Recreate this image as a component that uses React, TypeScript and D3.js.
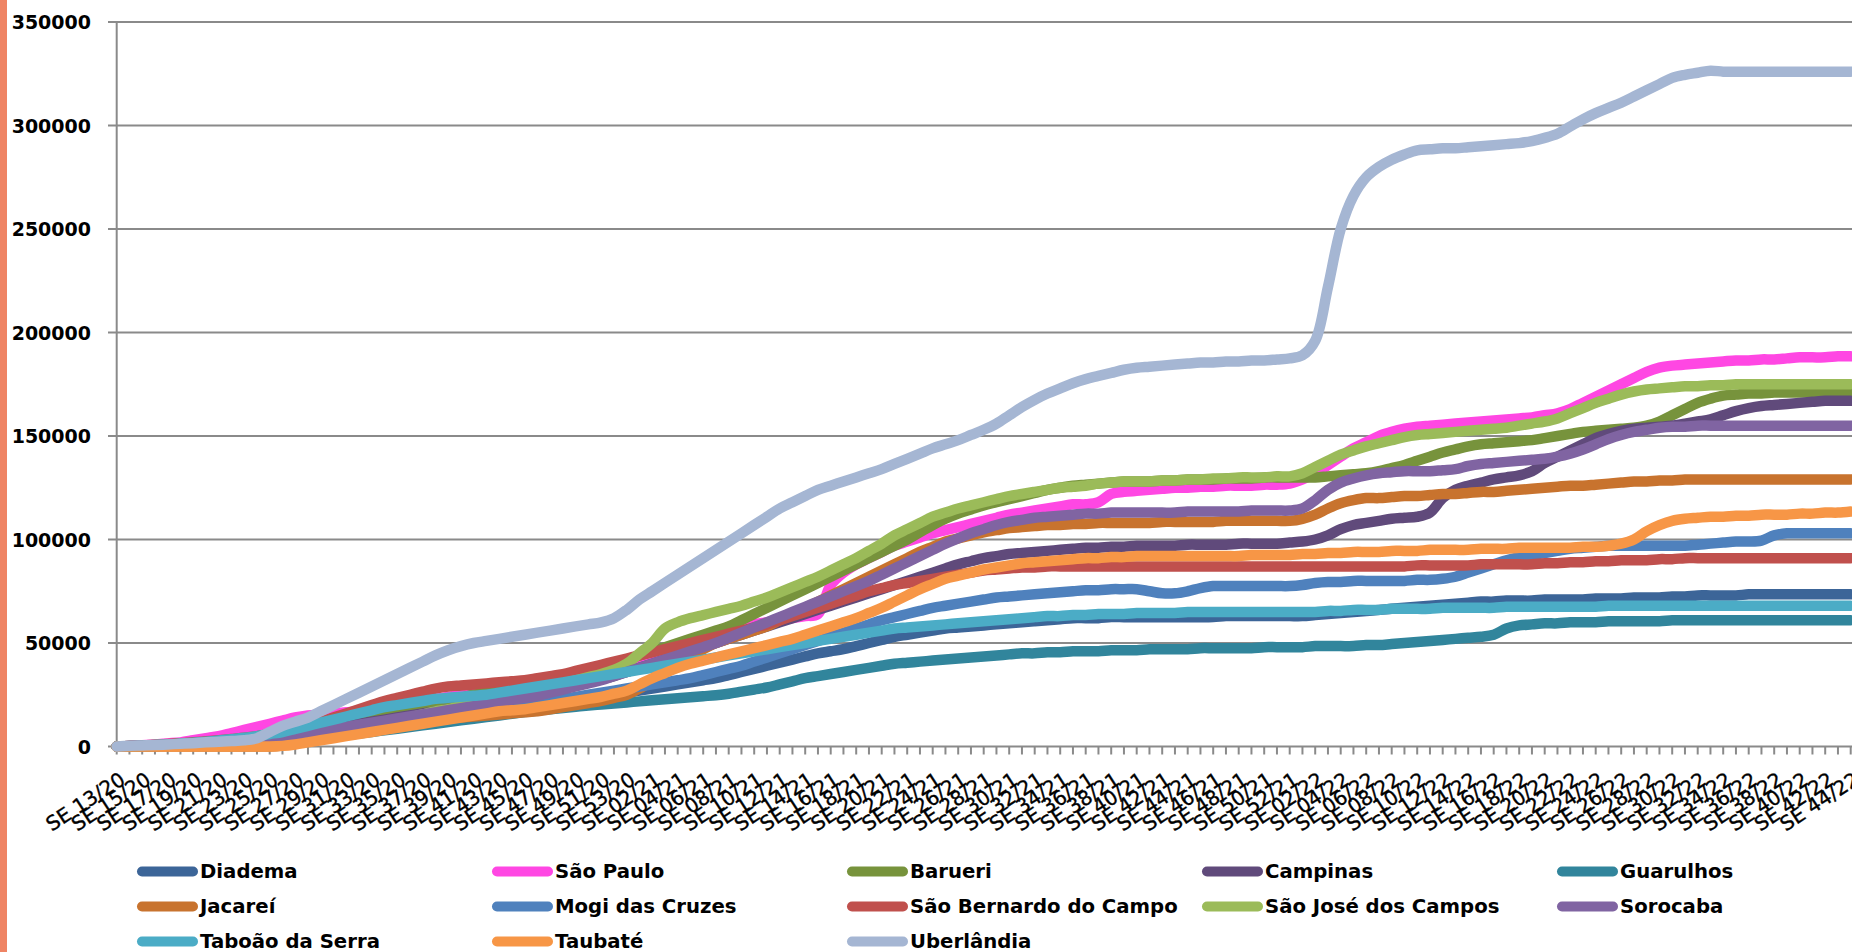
import React from 'react';
import * as d3 from 'd3';

// ---------- categories (epidemiological weeks) ----------
const YEAR_WEEKS: [string, number, number][] = [
  ['20', 13, 53],
  ['21', 1, 52],
  ['22', 1, 44],
];
const categories: string[] = [];
YEAR_WEEKS.forEach(([yy, a, b]) => {
  for (let w = a; w <= b; w++) categories.push(`SE ${String(w).padStart(2, '0')}/${yy}`);
});

const yTicks = [0, 50000, 100000, 150000, 200000, 250000, 300000, 350000];
const UNIT = 1000; // values below are in thousands

// ---------- series (values in thousands) ----------
const diadema = [0,0.1,0.2,0.4,0.6,0.8,1,1.3,1.6,2, 2.4,2.9,3.4,4,4.7,5.4,6,7,8,9, 10,11,12,13,14,14.5,15,15.5,16,16.5, 17,17.5,18,19,20,21,22,23,24,25, 26,27,28,29,30,31,32,33,34.5,36, 37.5,39,40.5,42,43.5,45,46,47,48.5,50, 51.5,53,54,55,56,57,57.5,58,58.5,59, 59.5,60,60.5,61,61.5,62,62,62,62.5,62.5, 62.5,62.5,62.5,62.5,62.5,62.5,62.5,63,63,63, 63,63,63,63,63.5,64,64.5,65,65.5,66, 66.5,67,67.5,68,68.5,69,69.5,70,70,70.5, 70.5,70.5,71,71,71,71,71.5,71.5,71.5,72, 72,72,72.5,72.5,73,73,73,73,73.5,73.5, 73.5,73.5,73.5,73.5,73.5,73.5,73.5];
const saoPaulo = [0,0.3,0.6,1,1.5,2,3,4,5,6.5, 8,9.5,11,12.5,14,15,15.5,16,16.5,17, 18,19,20,21,22,23,24,25,26,27, 28,29,30,31,32,33,34,35,36,37, 39,41,43,45,47,49,51,53,55,57, 59,60,61,62,63,64,78,84,88,91, 94,97,99,101,103,104.5,106,107.5,109,110.5, 112,113,114,115,116,117,117,118,122,123, 123.5,124,124.5,125,125,125.5,125.5,126,126,126, 126.5,126.5,127,129,132,136,140,144,147,150, 152,153.5,154.5,155,155.5,156,156.5,157,157.5,158, 158.5,159,160,161,163,166,169,172,175,178, 181,183,184,184.5,185,185.5,186,186.5,186.5,187, 187,187.5,188,188,188,188.5,188.5];
const barueri = [0,0.2,0.4,0.7,1,1.3,1.7,2.2,2.8,3.4, 4,4.6,5.2,6,7,8,9,10,11,12, 13,14.5,16,17.5,19,20.5,22,23.5,25,26, 27,28,29,30.5,32,33.5,35,36.5,38,40, 42,44,46,48,50,52,54,56,58,61, 64,67,70,73,76,79,82,85,88,91, 94,97,100,103.5,107,110,112.5,114.5,116.5,118, 119.5,121,122.5,124,125,126,126.5,127,127.5,128, 128,128,128.5,128.5,129,129,129,129.5,129.5,129.5, 130,130,130,130,130,130.5,131,131.5,132,133, 134.5,136,138,140,142,143.5,145,146,146.5,147, 147.5,148,149,150,151,152,152.5,153,153.5,154, 155,157,160,163,166,168,169.5,170,170.5,170.5, 171,171,171,171,171,171,171];
const campinas = [0,0.2,0.4,0.6,0.9,1.2,1.5,1.9,2.3,2.8, 3.3,3.9,4.5,5.2,6,7,8,9,10,11, 12,13,14,15,16,17,18,19,20,21, 22,23,24,25,26.5,28,29.5,31,32.5,34, 36,38,40,42,44,46,48,50,52,54, 56,58,60,62,64,66,68,70,72,74, 76,78,80,82,84,86,88,89.5,91,92, 93,93.5,94,94.5,95,95.5,96,96,96.5,96.5, 97,97,97,97,97.5,97.5,97.5,97.5,98,98, 98,98,98.5,99,100,102,105,107,108,109, 110,110.5,111,113,120,124,126,127.5,129,130, 131,133,137,140,143,146,149,151,152.5,153.5, 154,154.5,155,156,157,158,160,162,163.5,164.5, 165,165.5,166,166.5,167,167,167];
const guarulhos = [0,0.1,0.2,0.3,0.4,0.5,0.7,0.9,1.1,1.3, 1.6,2,2.4,2.8,3.3,3.8,4.4,5,5.6,6.3, 7,7.8,8.6,9.4,10.2,11,11.8,12.6,13.4,14.2, 15,15.8,16.6,17.4,18,18.6,19.2,19.8,20.3,20.8, 21.3,21.8,22.3,22.8,23.3,23.8,24.3,24.8,25.5,26.5, 27.5,28.5,30,31.5,33,34,35,36,37,38, 39,40,40.5,41,41.5,42,42.5,43,43.5,44, 44.5,45,45,45.5,45.5,46,46,46,46.5,46.5, 46.5,47,47,47,47,47.5,47.5,47.5,47.5,47.5, 48,48,48,48,48.5,48.5,48.5,48.5,49,49, 49.5,50,50.5,51,51.5,52,52.5,53,54,57, 58.5,59,59.5,59.5,60,60,60,60.5,60.5,60.5, 60.5,60.5,61,61,61,61,61,61,61,61, 61,61,61,61,61,61,61];
const jacarei = [0,0,0,0,0,0,0,0,0,0, 0,0,0,0.5,1.5,2.5,3.5,4.5,5.5,6.5, 7.5,8.5,9.5,10.5,11.5,12.5,13.5,14,14.5,15, 15.5,16,16.5,17,18,19,20,21,22,23.5, 25,28,32,36,40,44,47,50,52,54, 56,58,61,64,67,70,73,76,79,82, 85,88,91,94,96.5,99,100.5,102,103.5,104.5, 105.5,106,106.5,107,107,107.5,107.5,108,108,108, 108,108,108.5,108.5,108.5,108.5,108.5,109,109,109, 109,109,109,110,112,115,117.5,119,120,120, 120.5,121,121,121.5,122,122,122.5,123,123,123.5, 124,124.5,125,125.5,126,126,126.5,127,127.5,128, 128,128.5,128.5,129,129,129,129,129,129,129, 129,129,129,129,129,129,129];
const mogi = [0,0.1,0.2,0.3,0.5,0.7,0.9,1.2,1.5,1.8, 2.2,2.6,3,3.5,4,4.5,5,5.5,6,7, 8,9,10,11,12,13,14,15,16,17, 18,19,20,21,22,23,24,25,26,27, 28,29,30,31,32,33,34.5,36,37.5,39, 41,43,45,47,49,51,53,55,57,59, 61,62.5,64,65.5,67,68,69,70,71,72, 72.5,73,73.5,74,74.5,75,75.5,75.5,76,76, 76,75,74,74,75,76.5,77.5,77.5,77.5,77.5, 77.5,77.5,77.5,78,79,79.5,79.5,80,80,80, 80,80,80.5,80.5,81,82,84,86,88,90, 91.5,92.5,93.5,94.5,95.5,96,96.5,97,97,97, 97,97,97,97,97.5,98,98.5,99,99,99.5, 102,103,103,103,103,103,103];
const saoBernardo = [0,0.2,0.5,0.8,1.2,1.6,2,2.5,3,3.6, 4.2,5,6,7,8.5,10,12,14,16,18, 20,22,23.5,25,26.5,28,29,29.5,30,30.5, 31,31.5,32,33,34,35,36.5,38,39.5,41, 42.5,44,45.5,47,48.5,50,51.5,53,54.5,56, 57.5,59,61,63,65,67,69,71,73,75, 76.5,78,79,80,81,82,83,84,85,85.5, 86,86.5,86.5,87,87,87,87,87,87,87, 87,87,87,87,87,87,87,87,87,87, 87,87,87,87,87,87,87,87,87,87, 87,87,87.5,87.5,87.5,87.5,87.5,88,88,88, 88,88,88.5,88.5,89,89,89.5,89.5,90,90, 90,90.5,90.5,91,91,91,91,91,91,91, 91,91,91,91,91,91,91];
const saoJose = [0,0,0.2,0.4,0.6,0.8,1,1.3,1.6,2, 2.4,2.8,3.2,3.6,4,4.5,5,6,7,8, 9.5,11,12.5,14,15.5,17,18,19.5,21,22, 23,24.5,26,27.5,29,30.5,32,33.5,35,37, 40,45,50,57,60,62,63.5,65,66.5,68, 70,72,74.5,77,79.5,82,85,88,91,94.5, 98,102,105,108,111,113,115,116.5,118,119.5, 121,122,123,124,125,125.5,126,127,127.5,128, 128,128,128.5,128.5,129,129,129.5,129.5,130,130, 130,130.5,130.5,132,135,138,141,143,145,146.5, 148,149.5,150.5,151,151.5,152,152.5,153,153.5,154, 155,156,157,158.5,161,163.5,166,168,170,171.5, 172.5,173,173.5,174,174,174.5,174.5,175,175,175, 175,175,175,175,175,175,175];
const sorocaba = [0,0.1,0.3,0.5,0.7,1,1.3,1.7,2.1,2.6, 3.1,3.7,4.3,5,5.8,6.6,7.5,8.5,9.5,10.5, 11.5,12.5,13.5,14.5,15.5,16.5,17.5,18.5,19.5,20.5, 21.5,22.5,23.5,24.5,26,27.5,29,30.5,32,34, 36,38,40,42,44,46,48,50,52.5,55, 57.5,60,62.5,65,67.5,70,72.5,75,77.5,80, 83,86,89,92,95,98,100.5,103,105,107, 108.5,109.5,110.5,111,111.5,112,112.5,112.5,113,113, 113,113,113,113,113.5,113.5,113.5,113.5,113.5,114, 114,114,114,115,119,124,127.5,129.5,131,132, 132.5,133,133,133,133.5,134,135.5,136.5,137,137.5, 138,138.5,139,140,141.5,143.5,146,148.5,150.5,152, 153,154,154.5,154.5,155,155,155,155,155,155, 155,155,155,155,155,155,155];
const taboao = [0,0.2,0.4,0.7,1,1.4,1.8,2.3,2.9,3.5, 4.2,5,6,7,8.5,10,11.5,13,14.5,16, 17.5,19,20,21,22,23,23.5,24,24.5,25, 26,27,28,29,30,31,32,33,34,35, 36,37,38,39,40,41,42,43,44,45, 46,47,48,49,50,51,52,53,54,55, 56,57,57.5,58,58.5,59,59.5,60,60.5,61, 61.5,62,62.5,63,63,63.5,63.5,64,64,64, 64.5,64.5,64.5,64.5,65,65,65,65,65,65, 65,65,65,65,65,65.5,65.5,66,66,66, 66.5,66.5,66.5,66.5,67,67,67,67,67,67.5, 67.5,67.5,67.5,67.5,67.5,67.5,67.5,68,68,68, 68,68,68,68,68,68,68,68,68,68, 68,68,68,68,68,68,68];
const taubate = [0,0,0,0,0,0,0,0,0,0, 0,0,0,0.3,1,2,3,4,5,6, 7,8,9,10,11,12,13,14,15,16, 17,17.5,18,19,20,21,22,23,24,25.5, 27,30,33,35.5,38,40,41.5,43,44.5,46, 47.5,49,50.5,52,54,56,58,60,62,64.5, 67,70,73,76,78.5,81,82.5,84,85.5,86.5, 87.5,88.5,89,89.5,90,90.5,91,91,91.5,91.5, 92,92,92,92,92,92,92,92,92,92.5, 92.5,92.5,92.5,93,93,93.5,93.5,94,94,94, 94.5,94.5,94.5,95,95,95,95,95.5,95.5,95.5, 96,96,96,96,96,96.5,96.5,97,98,100, 104,107,109,110,110.5,111,111,111.5,111.5,112, 112,112,112.5,112.5,113,113,113.5];
const uberlandia = [0,0.3,0.5,0.7,1,1.3,1.6,2,2.3,2.6, 3,4,7,10,12,14,17,20,23,26, 29,32,35,38,41,44,46.5,48.5,50,51, 52,53,54,55,56,57,58,59,60,62, 66,71,75,79,83,87,91,95,99,103, 107,111,115,118,121,124,126,128,130,132, 134,136.5,139,141.5,144,146,148,150.5,153,156, 160,164,167.5,170.5,173,175.5,177.5,179,180.5,182, 183,183.5,184,184.5,185,185.5,185.5,186,186,186.5, 186.5,187,187.5,189,196,222,250,266,275,280, 283.5,286,288,288.5,289,289,289.5,290,290.5,291, 291.5,292.5,294,296,299.5,303,306,308.5,311,314, 317,320,323,324.5,325.5,326.5,326,326,326,326, 326,326,326,326,326,326,326];

const seriesNames = ['Diadema', 'São Paulo', 'Barueri', 'Campinas', 'Guarulhos', 'Jacareí', 'Mogi das Cruzes', 'São Bernardo do Campo', 'São José dos Campos', 'Sorocaba', 'Taboão da Serra', 'Taubaté', 'Uberlândia'];
const seriesValues = [diadema, saoPaulo, barueri, campinas, guarulhos, jacarei, mogi, saoBernardo, saoJose, sorocaba, taboao, taubate, uberlandia];
const seriesColors = ['#3C6598', '#FF47E3', '#77933C', '#604A7B', '#31859C', '#C8732E', '#4F81BD', '#C0504D', '#9BBB59', '#8064A2', '#4BACC6', '#F79646', '#A5B6D3'];

const W = 1852;
const H = 952;
const AXIS_X = 116.7;
const STEP = 12.75;
const Y0 = 746.5;
const YTOP = 22;

export default function App() {
  const x = d3
    .scalePoint<string>()
    .domain(categories)
    .range([AXIS_X, AXIS_X + STEP * (categories.length - 1)]);
  const y = d3.scaleLinear().domain([0, 350000]).range([Y0, YTOP]);

  const line = d3
    .line<number>()
    .x((_, i) => x(categories[i]) as number)
    .y((d) => y(d * UNIT))
    .curve(d3.curveCatmullRom.alpha(0.5));

  const font = "'DejaVu Sans', Verdana, sans-serif";
  const gridColor = '#8A8A8A';

  const legendCols = [138, 493, 848, 1203, 1558];
  const legendRows = [871.5, 906.5, 941.5];

  return (
    <svg
      width={W}
      height={H}
      viewBox={`0 0 ${W} ${H}`}
      style={{ position: 'absolute', left: 0, top: 0, background: '#fff' }}
      fontFamily={font}
    >
      <rect x={0} y={0} width={W} height={H} fill="#fff" />
      <rect x={0} y={0} width={7} height={H} fill="#EF8464" />

      {/* gridlines + y ticks */}
      {yTicks.map((t) => (
        <g key={t}>
          <line x1={108} x2={W} y1={y(t)} y2={y(t)} stroke={gridColor} strokeWidth={2} />
          <text
            x={91}
            y={y(t)}
            textAnchor="end"
            dominantBaseline="central"
            fontSize={19}
            fontWeight="bold"
            fill="#000"
          >
            {t}
          </text>
        </g>
      ))}
      {/* y axis */}
      <line x1={AXIS_X} x2={AXIS_X} y1={YTOP} y2={Y0} stroke={gridColor} strokeWidth={2} />

      {/* x ticks */}
      {categories.map((c) => (
        <line
          key={'t' + c}
          x1={x(c)}
          x2={x(c)}
          y1={Y0}
          y2={Y0 + 8}
          stroke={gridColor}
          strokeWidth={2}
        />
      ))}
      {/* x labels */}
      {categories.map((c, i) =>
        i % 2 === 0 ? (
          <text
            key={'l' + c}
            transform={`translate(${(x(c) as number) + 10},783) rotate(-33)`}
            textAnchor="end"
            fontSize={20}
            fill="#000"
            stroke="#000"
            strokeWidth={0.35}
          >
            {c}
          </text>
        ) : null
      )}

      {/* series lines */}
      <g fill="none" strokeLinecap="round" strokeLinejoin="round">
        {seriesValues.map((vals, k) => (
          <path key={seriesNames[k]} d={line(vals) || ''} stroke={seriesColors[k]} strokeWidth={10.5} />
        ))}
      </g>

      {/* legend */}
      {seriesNames.map((name, k) => {
        const cx = legendCols[k % 5];
        const cy = legendRows[Math.floor(k / 5)];
        return (
          <g key={'lg' + name}>
            <line x1={cx + 4} x2={cx + 55} y1={cy} y2={cy} stroke={seriesColors[k]} strokeWidth={10} strokeLinecap="round" />
            <text x={cx + 62} y={cy} dominantBaseline="central" fontSize={19.7} fontWeight="bold" fill="#000">
              {name}
            </text>
          </g>
        );
      })}
    </svg>
  );
}
